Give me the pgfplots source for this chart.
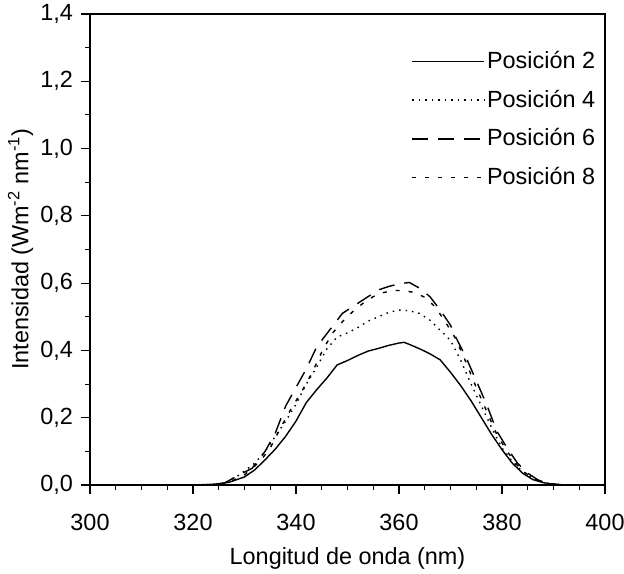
\documentclass[border=0pt]{standalone}
\usepackage{pgfplots}
\pgfplotsset{compat=1.18}
\usepackage{fontspec}
\setmainfont{Liberation Sans}
\begin{document}
\fontsize{23.5}{27}\selectfont
\begin{tikzpicture}
\useasboundingbox (-90bp,-89bp) rectangle (534bp,485bp);
\begin{axis}[
  scale only axis, width=515bp, height=471bp,
  xmin=300, xmax=400, ymin=0, ymax=1.4,
  xtick={300,320,...,400}, ytick={0,0.2,...,1.4},
  minor x tick num=3, minor y tick num=1,
  tick align=outside, xtick pos=bottom, ytick pos=left,
  major tick length=9bp, minor tick length=5bp,
  axis line style={line width=1.2bp}, every tick/.style={line width=1.1bp, black},
  /pgf/number format/assume math mode=true,
  yticklabel style={/pgf/number format/use comma, /pgf/number format/fixed, /pgf/number format/fixed zerofill, /pgf/number format/precision=1},
  xticklabel style={yshift=-12bp, /pgf/number format/fixed, /pgf/number format/precision=0, /pgf/number format/1000 sep={}},
  xlabel={Longitud de onda (nm)}, ylabel={Intensidad (Wm\textsuperscript{-2} nm\textsuperscript{-1})},
  xlabel style={at={(axis description cs:0.5,-0.155)}, anchor=center},
  ylabel style={at={(axis description cs:-0.135,0.5)}, anchor=center},
  legend style={draw=none, fill=none, at={(axis description cs:0.985,0.926)}, anchor=north east,
    row sep=14bp, font=\fontsize{23.5}{27}\selectfont, inner sep=0pt},
  legend cell align=left,
  legend image code/.code={\draw[#1] (0bp,0bp) -- (72bp,0bp);},
  /tikz/every even column/.append style={column sep=4bp},
]
\addplot[black, line width=1.4bp] coordinates {
(300,0) (320,0) (324,0.002) (327,0.008) (330,0.024) (332,0.045) (334,0.075) (336,0.107)
(338,0.145) (340,0.19) (342,0.245) (344,0.283) (346,0.318) (348,0.357) (350,0.37)
(352,0.385) (354,0.398) (356,0.406) (358,0.415) (360,0.422) (361,0.424) (362,0.418)
(364,0.405) (366,0.39) (368,0.372) (370,0.335) (372,0.295) (374,0.25) (376,0.2)
(378,0.15) (380,0.105) (382,0.065) (384,0.035) (386,0.016) (388,0.007) (390,0.002)
(392,0) (400,0)};
\addlegendentry{Posición 2}
\addplot[black, line width=1.4bp, dash pattern=on 1.5bp off 5bp] coordinates {
(300,0) (322,0) (326,0.005) (329,0.03) (332,0.065) (334,0.1) (336,0.145) (338,0.19)
(340,0.24) (342,0.3) (344,0.35) (346,0.405) (348,0.44) (350,0.452) (352,0.468)
(354,0.487) (356,0.5) (358,0.513) (360,0.52) (362,0.518) (364,0.51) (366,0.49)
(368,0.46) (370,0.43) (372,0.37) (374,0.3) (376,0.235) (378,0.17) (380,0.11)
(382,0.07) (384,0.04) (386,0.02) (388,0.008) (390,0.002) (392,0) (400,0)};
\addlegendentry{Posición 4}
\addplot[black, line width=1.4bp, dash pattern=on 16bp off 10bp] coordinates {
(300,0) (322,0) (326,0.005) (329,0.03) (331.5,0.05) (334,0.1) (336,0.155) (338,0.235)
(340,0.29) (342,0.345) (344,0.41) (345,0.43) (347,0.47) (349,0.51) (351,0.53)
(353,0.55) (356,0.58) (358,0.59) (360,0.598) (362,0.602) (364,0.585) (366,0.56)
(368,0.52) (370,0.475) (371,0.44) (373,0.38) (375,0.31) (377,0.24) (379,0.16)
(381,0.11) (383,0.065) (385,0.035) (387,0.015) (389,0.005) (392,0) (400,0)};
\addlegendentry{Posición 6}
\addplot[black, line width=1.4bp, dash pattern=on 4bp off 9bp] coordinates {
(300,0) (324,0) (327,0.008) (330,0.03) (333,0.07) (335,0.11) (337,0.17) (339,0.225)
(341,0.275) (343,0.33) (345,0.395) (347,0.45) (349,0.485) (351,0.515) (353,0.54)
(355,0.56) (357,0.572) (359,0.578) (361,0.578) (363,0.572) (365,0.558) (367,0.53)
(369,0.485) (371,0.435) (373,0.365) (375,0.29) (377,0.22) (379,0.15) (381,0.1)
(383,0.058) (385,0.03) (387,0.013) (389,0.004) (392,0) (400,0)};
\addlegendentry{Posición 8}
\end{axis}
\end{tikzpicture}
\end{document}
